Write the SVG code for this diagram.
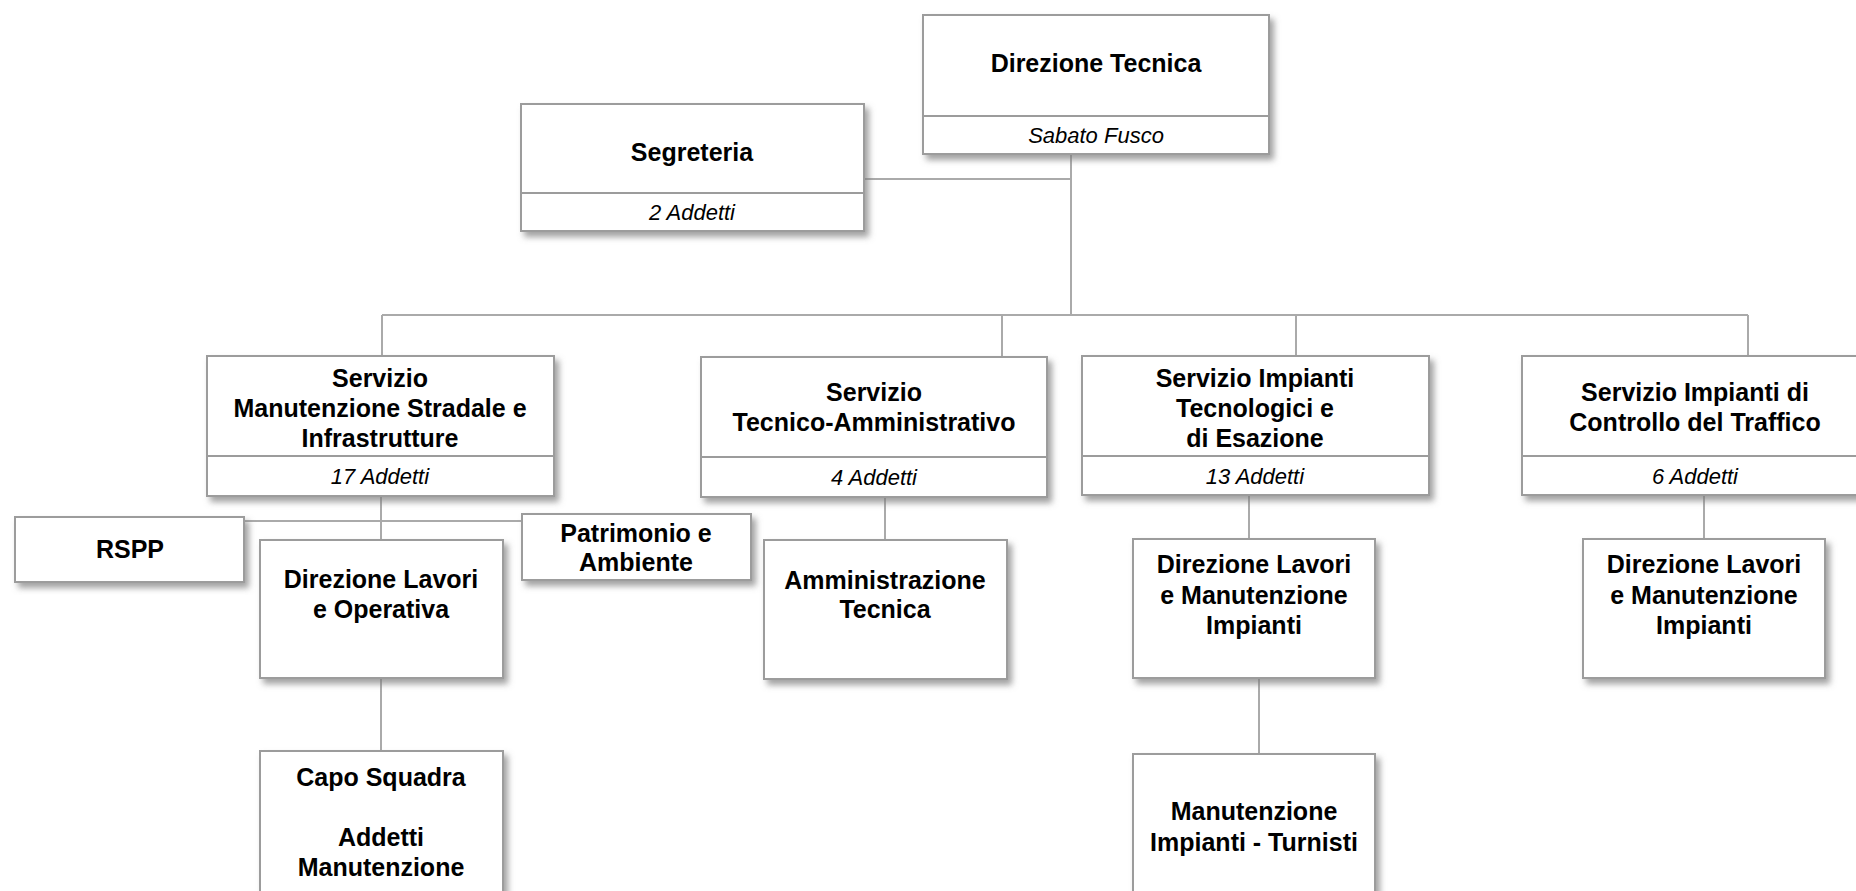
<svg xmlns="http://www.w3.org/2000/svg" width="1856" height="891" viewBox="0 0 1856 891">
<defs>
<filter id="sh" x="-10%" y="-10%" width="130%" height="130%">
<feDropShadow dx="4" dy="5" stdDeviation="3" flood-color="#7a7a7a" flood-opacity="0.7"/>
</filter>
<style>
.box{fill:#fff;stroke:#9c9c9c;stroke-width:2;filter:url(#sh)}
.div{stroke:#9c9c9c;stroke-width:2;fill:none}
.con path{stroke:#aaaaaa;stroke-width:2;fill:none}
.b{font-family:"Liberation Sans",Arial,sans-serif;font-weight:bold;font-size:25px;fill:#000;text-anchor:middle}
.i{font-family:"Liberation Sans",Arial,sans-serif;font-style:italic;font-size:22px;fill:#000;text-anchor:middle}
</style>
</defs>
<rect width="1856" height="891" fill="#fff"/>
<g id="connectors" class="con">
<path d="M864,179 H1071"/>
<path d="M1071,154 V315"/>
<path d="M382,315 H1748"/>
<path d="M382,315 V356"/>
<path d="M1002,315 V357"/>
<path d="M1296,315 V356"/>
<path d="M1748,315 V356"/>
<path d="M381,496 V540"/>
<path d="M244,521 H522"/>
<path d="M885,497 V540"/>
<path d="M1249,495 V539"/>
<path d="M1704,495 V539"/>
<path d="M381,678 V751"/>
<path d="M1259,678 V754"/>
</g>
<g id="direzione-tecnica">
<rect class="box" x="923" y="15" width="346" height="139"/>
<path class="div" d="M923,116 H1269"/>
<text class="b" x="1096" y="72">Direzione Tecnica</text>
<text class="i" x="1096" y="143">Sabato Fusco</text>
</g>
<g id="segreteria">
<rect class="box" x="521" y="104" width="343" height="127"/>
<path class="div" d="M521,193 H864"/>
<text class="b" x="692" y="161">Segreteria</text>
<text class="i" x="692" y="220">2 Addetti</text>
</g>
<g id="servizio-manutenzione">
<rect class="box" x="207" y="356" width="347" height="140"/>
<path class="div" d="M207,456 H554"/>
<text class="b" x="380" y="387">Servizio</text>
<text class="b" x="380" y="417">Manutenzione Stradale e</text>
<text class="b" x="380" y="447">Infrastrutture</text>
<text class="i" x="380" y="484">17 Addetti</text>
</g>
<g id="servizio-tecnico-amministrativo">
<rect class="box" x="701" y="357" width="346" height="140"/>
<path class="div" d="M701,457 H1047"/>
<text class="b" x="874" y="401">Servizio</text>
<text class="b" x="874" y="431">Tecnico-Amministrativo</text>
<text class="i" x="874" y="485">4 Addetti</text>
</g>
<g id="servizio-impianti-tecnologici">
<rect class="box" x="1082" y="356" width="347" height="139"/>
<path class="div" d="M1082,456 H1429"/>
<text class="b" x="1255" y="387">Servizio Impianti</text>
<text class="b" x="1255" y="417">Tecnologici e</text>
<text class="b" x="1255" y="447">di Esazione</text>
<text class="i" x="1255" y="484">13 Addetti</text>
</g>
<g id="servizio-controllo-traffico">
<rect class="box" x="1522" y="356" width="347" height="139"/>
<path class="div" d="M1522,456 H1869"/>
<text class="b" x="1695" y="401">Servizio Impianti di</text>
<text class="b" x="1695" y="431">Controllo del Traffico</text>
<text class="i" x="1695" y="484">6 Addetti</text>
</g>
<g id="rspp">
<rect class="box" x="15" y="517" width="229" height="65"/>
<text class="b" x="130" y="558">RSPP</text>
</g>
<g id="patrimonio-ambiente">
<rect class="box" x="522" y="514" width="229" height="66"/>
<text class="b" x="636" y="542">Patrimonio e</text>
<text class="b" x="636" y="571">Ambiente</text>
</g>
<g id="direzione-lavori-operativa">
<rect class="box" x="260" y="540" width="243" height="138"/>
<text class="b" x="381" y="588">Direzione Lavori</text>
<text class="b" x="381" y="618">e Operativa</text>
</g>
<g id="amministrazione-tecnica">
<rect class="box" x="764" y="540" width="243" height="139"/>
<text class="b" x="885" y="589">Amministrazione</text>
<text class="b" x="885" y="618">Tecnica</text>
</g>
<g id="direzione-lavori-impianti-1">
<rect class="box" x="1133" y="539" width="242" height="139"/>
<text class="b" x="1254" y="573">Direzione Lavori</text>
<text class="b" x="1254" y="604">e Manutenzione</text>
<text class="b" x="1254" y="634">Impianti</text>
</g>
<g id="direzione-lavori-impianti-2">
<rect class="box" x="1583" y="539" width="242" height="139"/>
<text class="b" x="1704" y="573">Direzione Lavori</text>
<text class="b" x="1704" y="604">e Manutenzione</text>
<text class="b" x="1704" y="634">Impianti</text>
</g>
<g id="capo-squadra">
<rect class="box" x="260" y="751" width="243" height="150"/>
<text class="b" x="381" y="786">Capo Squadra</text>
<text class="b" x="381" y="846">Addetti</text>
<text class="b" x="381" y="876">Manutenzione</text>
</g>
<g id="manutenzione-turnisti">
<rect class="box" x="1133" y="754" width="242" height="150"/>
<text class="b" x="1254" y="820">Manutenzione</text>
<text class="b" x="1254" y="851">Impianti - Turnisti</text>
</g>
</svg>
